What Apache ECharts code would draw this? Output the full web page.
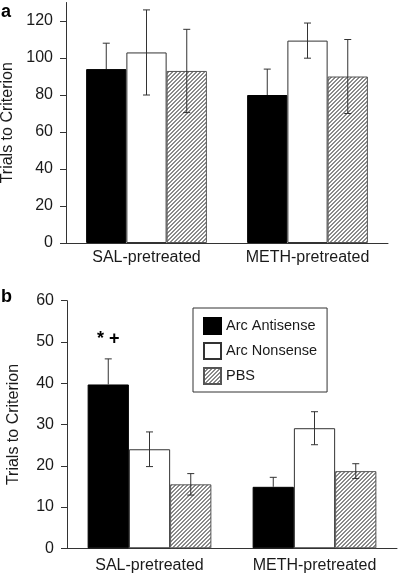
<!DOCTYPE html>
<html>
<head>
<meta charset="utf-8">
<script src="https://cdn.jsdelivr.net/npm/echarts@6/dist/echarts.min.js"></script>
<style>html,body{margin:0;padding:0;background:#fff;}#c{width:400px;height:574px;}</style>
</head>
<body>
<div id="c"></div>
<script>
const categories = ['SAL-pretreated', 'METH-pretreated'];
const seriesNames = ['Arc Antisense', 'Arc Nonsense', 'PBS'];

// Panel a
const aAntisense = [94, 80];
const aAntisenseErr = [14, 14];
const aNonsense = [103, 109.4];
const aNonsenseErr = [23, 9.5];
const aPBS = [93, 90];
const aPBSErr = [22.5, 20];
const yTicksA = [0, 20, 40, 60, 80, 100, 120];

// Panel b
const bAntisense = [39.7, 14.9];
const bAntisenseErr = [6.2, 2.3];
const bNonsense = [24, 29.1];
const bNonsenseErr = [4.2, 4];
const bPBS = [15.5, 18.7];
const bPBSErr = [2.6, 1.8];
const yTicksB = [0, 10, 20, 30, 40, 50, 60];
const bAnnotations = [['* +', ''], ['', ''], ['', '']];

const FONT = '"Liberation Sans", Arial, Helvetica, sans-serif';
const TXT = '#1a1a1a';
const LINE = '#333';

// hatch pattern
const hc = document.createElement('canvas');
hc.width = 4; hc.height = 4;
const hx = hc.getContext('2d');
hx.fillStyle = '#ffffff'; hx.fillRect(0, 0, 4, 4);
hx.fillStyle = '#8a8a8a';
for (let i = 0; i < 4; i++) { hx.fillRect(i, 3 - i, 1, 1); hx.fillRect(i, (4 - i) % 4, 1, 1); }
const hatch = { image: hc, repeat: 'repeat' };

const styles = [
  { color: '#000000', borderColor: '#000', borderWidth: 1 },
  { color: '#ffffff', borderColor: LINE, borderWidth: 1 },
  { color: hatch, borderColor: '#555', borderWidth: 1 }
];
const GAP = 0.25;

function errSeries(panel, idx, vals, errs, notes) {
  return {
    type: 'custom',
    name: 'err-' + panel + idx,
    xAxisIndex: panel, yAxisIndex: panel,
    z: 10,
    data: vals.map((v, i) => [i, v, errs[i]]),
    encode: { x: 0, y: 1 },
    renderItem: function (params, api) {
      const cat = api.value(0), val = api.value(1), err = api.value(2);
      const note = notes ? notes[params.dataIndex] : '';
      const band = api.size([1, 0])[0];
      const barW = band * (1 - GAP) / 3;
      const c = api.coord([cat, val]);
      const x = c[0] + (idx - 1) * barW;
      const top = api.coord([cat, val + err])[1];
      // the lower whisker is hidden inside the black bar
      const bot = idx === 0 ? c[1] : api.coord([cat, val - err])[1];
      const cap = 3.5;
      const st = { stroke: '#333', lineWidth: 1 };
      const children = [
        { type: 'line', shape: { x1: x, y1: top, x2: x, y2: bot }, style: st },
        { type: 'line', shape: { x1: x - cap, y1: top, x2: x + cap, y2: top }, style: st }
      ];
      if (idx !== 0) {
        children.push({ type: 'line', shape: { x1: x - cap, y1: bot, x2: x + cap, y2: bot }, style: st });
      }
      if (note) {
        children.push({ type: 'text', style: { text: note, x: x, y: top - 20, align: 'center', verticalAlign: 'middle', font: 'bold 18px ' + FONT, fill: '#000' } });
      }
      return { type: 'group', children: children };
    }
  };
}

function barSeries(panel, idx, vals) {
  return {
    type: 'bar', name: seriesNames[idx], xAxisIndex: panel, yAxisIndex: panel,
    data: vals, barGap: '0%', barCategoryGap: (GAP * 100) + '%',
    itemStyle: styles[idx], emphasis: { disabled: true }, animation: false
  };
}

function yAxis(gridIndex, max, ticks) {
  return {
    type: 'value', gridIndex: gridIndex, min: 0, max: max,
    name: 'Trials to Criterion', nameLocation: 'middle', nameGap: 45,
    nameTextStyle: { fontFamily: FONT, fontSize: 16, color: TXT },
    splitLine: { show: false },
    axisLine: { show: true, lineStyle: { color: LINE, width: 1 } },
    axisTick: { show: true, length: 6, customValues: ticks, lineStyle: { color: LINE } },
    axisLabel: { customValues: ticks, margin: 13, fontFamily: FONT, fontSize: 16, color: TXT }
  };
}
function xAxis(gridIndex, margin) {
  return {
    type: 'category', gridIndex: gridIndex, data: categories,
    axisLine: { show: true, lineStyle: { color: LINE, width: 1 } },
    axisTick: { show: false },
    axisLabel: { interval: 0, hideOverlap: false, margin: margin, fontFamily: FONT, fontSize: 16, color: TXT }
  };
}

const chart = echarts.init(document.getElementById('c'), null, { renderer: 'canvas' });
chart.setOption({
  animation: false,
  backgroundColor: '#fff',
  grid: [
    { left: 66, top: 2.5, width: 322, height: 240.5, outerBoundsMode: 'none', containLabel: false },
    { left: 67, top: 300.7, width: 330, height: 247.6, outerBoundsMode: 'none', containLabel: false }
  ],
  xAxis: [xAxis(0, 7), xAxis(1, 9)],
  yAxis: [yAxis(0, 130, yTicksA), yAxis(1, 60, yTicksB)],
  legend: {
    data: seriesNames, orient: 'vertical', left: 193, top: 308,
    borderColor: '#333', borderWidth: 1, padding: [9, 10, 7, 10],
    itemWidth: 17, itemHeight: 16, itemGap: 7, selectedMode: false,
    icon: 'rect',
    textStyle: { fontFamily: FONT, fontSize: 14.5, color: TXT }
  },
  graphic: [
    { type: 'text', left: 1, top: 3, style: { text: 'a', font: 'bold 18px ' + FONT, fill: '#000' } },
    { type: 'text', left: 1, top: 288, style: { text: 'b', font: 'bold 18px ' + FONT, fill: '#000' } }
  ],
  series: [
    barSeries(0, 0, aAntisense), barSeries(0, 1, aNonsense), barSeries(0, 2, aPBS),
    errSeries(0, 0, aAntisense, aAntisenseErr), errSeries(0, 1, aNonsense, aNonsenseErr), errSeries(0, 2, aPBS, aPBSErr),
    barSeries(1, 0, bAntisense), barSeries(1, 1, bNonsense), barSeries(1, 2, bPBS),
    errSeries(1, 0, bAntisense, bAntisenseErr, bAnnotations[0]), errSeries(1, 1, bNonsense, bNonsenseErr), errSeries(1, 2, bPBS, bPBSErr)
  ]
});
</script>
</body>
</html>
